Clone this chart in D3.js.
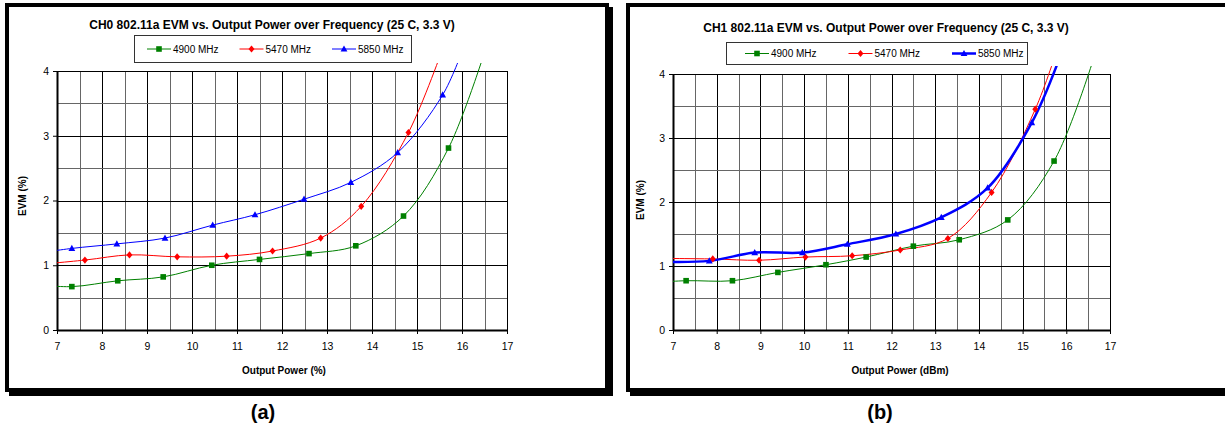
<!DOCTYPE html>
<html>
<head>
<meta charset="utf-8">
<script src="https://cdn.jsdelivr.net/npm/d3@7"></script>
<style>
  body { margin: 0; background: #fff; }
  svg { display: block; font-family: Arial, "Liberation Sans", sans-serif; }
</style>
</head>
<body>
<svg id="fig" width="1225" height="425"></svg>
<script>
var powerTicks = [7, 8, 9, 10, 11, 12, 13, 14, 15, 16, 17];
var evmTicks = [0, 1, 2, 3, 4];
var freqLabels = ["4900 MHz", "5470 MHz", "5850 MHz"];
var panelTitles = ["CH0 802.11a EVM vs. Output Power over Frequency (25 C, 3.3 V)",
                   "CH1 802.11a EVM vs. Output Power over Frequency (25 C, 3.3 V)"];
var xTitles = ["Output Power (%)", "Output Power (dBm)"];
var captions = ["(a)", "(b)"];

// CH0 readings (first/last points sit outside the axes, so the smoothed line runs off the plot)
var ch0Pwr4900 = [6.5, 7.33, 8.35, 9.36, 10.44, 11.5, 12.6, 13.64, 14.7, 15.7, 16.6];
var ch0Evm4900 = [0.70, 0.67, 0.76, 0.82, 1.00, 1.09, 1.18, 1.30, 1.76, 2.81, 4.5];
var ch0Pwr5470 = [6.4, 7.62, 8.61, 9.67, 10.77, 11.79, 12.86, 13.76, 14.81, 15.6];
var ch0Evm5470 = [1.00, 1.08, 1.16, 1.13, 1.14, 1.22, 1.42, 1.91, 3.05, 4.4];
var ch0Pwr5850 = [6.5, 7.33, 8.33, 9.4, 10.46, 11.4, 12.49, 13.53, 14.57, 15.57, 16.0];
var ch0Evm5850 = [1.18, 1.26, 1.33, 1.42, 1.62, 1.78, 2.02, 2.28, 2.74, 3.63, 4.3];

// CH1 readings
var ch1Pwr4900 = [6.5, 7.3, 8.36, 9.4, 10.5, 11.42, 12.5, 13.55, 14.66, 15.72, 16.7];
var ch1Evm4900 = [0.74, 0.77, 0.77, 0.90, 1.02, 1.14, 1.31, 1.41, 1.72, 2.64, 4.4];
var ch1Pwr5470 = [6.5, 7.91, 8.97, 10.03, 11.1, 12.2, 13.29, 14.29, 15.29, 15.8];
var ch1Evm5470 = [1.12, 1.11, 1.09, 1.14, 1.16, 1.25, 1.43, 2.15, 3.45, 4.4];
var ch1Pwr5850 = [6.5, 7.83, 8.87, 9.96, 10.99, 12.1, 13.14, 14.2, 15.21, 15.9];
var ch1Evm5850 = [1.07, 1.08, 1.21, 1.21, 1.34, 1.50, 1.76, 2.22, 3.24, 4.35];

var seriesColors = ["#008000", "#ff0000", "#0000ff"];
var markerPaths = [
  "M-2.8,-2.8H2.8V2.8H-2.8Z",
  "M0,-3.6L3,0L0,3.6L-3,0Z",
  "M0,-3.6L3.4,2.6H-3.4Z"
];

var svg = d3.select("#fig");

function zipSeries(px, ev) {
  return px.map(function(p, i) { return [p, ev[i]]; });
}

function drawPanel(idx, lay, series, widths) {
  var g = svg.append("g");
  var f = lay.frame;

  // frame with drop shadow
  g.append("rect").attr("x", f.x + 2).attr("y", f.y + 2).attr("width", f.w + 4).attr("height", f.h + 4).attr("fill", "#000");
  g.append("rect").attr("x", f.x).attr("y", f.y).attr("width", f.w).attr("height", f.h)
    .attr("fill", "#fff").attr("stroke", "#000").attr("stroke-width", 4);

  var xx = d3.scaleLinear().domain([7, 17]).range([lay.x0, lay.x1]);
  var yy = d3.scaleLinear().domain([0, 4]).range([lay.y1, lay.y0]);

  // grid
  g.selectAll(".vg").data(d3.range(7.5, 17.01, 0.5)).enter().append("line")
    .attr("x1", function(d) { return Math.round(xx(d)) + 0.5; })
    .attr("x2", function(d) { return Math.round(xx(d)) + 0.5; })
    .attr("y1", lay.y0).attr("y2", lay.y1)
    .attr("stroke", function(d) { return d % 1 === 0 ? "#000" : "#666"; })
    .attr("stroke-width", 1);
  g.selectAll(".hg").data(d3.range(0.5, 4.01, 0.5)).enter().append("line")
    .attr("y1", function(d) { return Math.round(yy(d)) + 0.5; })
    .attr("y2", function(d) { return Math.round(yy(d)) + 0.5; })
    .attr("x1", lay.x0).attr("x2", lay.x1)
    .attr("stroke", function(d) { return d % 1 === 0 ? "#000" : "#666"; })
    .attr("stroke-width", 1);

  // axes
  var xAxis = g.append("g").attr("transform", "translate(0," + lay.y1 + ")")
    .call(d3.axisBottom(xx).tickValues(powerTicks).tickFormat(d3.format("d"))
      .tickSize(4).tickPadding(9).tickSizeOuter(0));
  var yAxis = g.append("g").attr("transform", "translate(" + lay.x0 + ",0)")
    .call(d3.axisLeft(yy).tickValues(evmTicks).tickFormat(d3.format("d"))
      .tickSize(4).tickPadding(4).tickSizeOuter(0));
  [xAxis, yAxis].forEach(function(a) {
    a.attr("font-family", null).attr("font-size", null);
    a.select(".domain").attr("stroke", "#000").attr("stroke-width", 2);
    a.selectAll("text").attr("fill", "#000").style("font-size", "10.5px");
  });

  // series
  var clipId = "clip" + idx;
  g.append("clipPath").attr("id", clipId).append("rect")
    .attr("x", lay.x0).attr("y", lay.y0 - 8).attr("width", lay.x1 - lay.x0).attr("height", lay.y1 - lay.y0 + 8);
  var line = d3.line().x(function(d) { return xx(d[0]); }).y(function(d) { return yy(d[1]); })
    .curve(d3.curveCatmullRom.alpha(0.5));
  series.forEach(function(s, i) {
    g.append("path").datum(s).attr("d", line).attr("fill", "none")
      .attr("stroke", seriesColors[i]).attr("stroke-width", widths[i])
      .attr("clip-path", "url(#" + clipId + ")");
  });
  series.forEach(function(s, i) {
    g.selectAll(".m" + i).data(s.filter(function(d) { return d[0] > 7 && d[0] < 17 && d[1] > 0 && d[1] < 4; }))
      .enter().append("path")
      .attr("transform", function(d) { return "translate(" + xx(d[0]) + "," + yy(d[1]) + ")"; })
      .attr("d", markerPaths[i]).attr("fill", seriesColors[i]);
  });

  // titles
  g.append("text").attr("x", lay.titleX).attr("y", lay.titleY).attr("text-anchor", "middle")
    .style("font-size", "12px").style("font-weight", "bold").text(panelTitles[idx]);
  g.append("text").attr("x", lay.xTitleX).attr("y", 374).attr("text-anchor", "middle")
    .style("font-size", "10px").style("font-weight", "bold").text(xTitles[idx]);
  g.append("text").attr("transform", "translate(" + lay.yTitleX + "," + lay.yTitleY + ")rotate(-90)")
    .attr("text-anchor", "middle").attr("dy", "0.35em")
    .style("font-size", "10px").style("font-weight", "bold").text("EVM (%)");

  // legend
  var lg = lay.legend;
  g.append("rect").attr("x", lg.x + 0.5).attr("y", lg.y + 0.5).attr("width", lg.w).attr("height", lg.h)
    .attr("fill", "#fff").attr("stroke", "#333").attr("stroke-width", 1);
  freqLabels.forEach(function(name, i) {
    var lx = lg.x + lg.first + i * lg.step;
    var ly = lg.y + lg.h / 2 + 0.5;
    g.append("line").attr("x1", lx).attr("x2", lx + 24).attr("y1", ly).attr("y2", ly)
      .attr("stroke", seriesColors[i]).attr("stroke-width", widths[i]);
    g.append("path").attr("transform", "translate(" + (lx + 12) + "," + ly + ")")
      .attr("d", markerPaths[i]).attr("fill", seriesColors[i]);
    g.append("text").attr("x", lx + 26).attr("y", ly).attr("dy", "0.35em")
      .style("font-size", "10px").text(name);
  });

  // caption
  svg.append("text").attr("x", lay.capX).attr("y", 419).attr("text-anchor", "middle")
    .style("font-size", "20px").style("font-weight", "bold").text(captions[idx]);
}

drawPanel(0, {
  frame: { x: 7, y: 5, w: 600, h: 385 },
  x0: 57, x1: 507, y0: 71, y1: 330,
  titleX: 272, titleY: 29, xTitleX: 284, yTitleX: 22, yTitleY: 196, capX: 263,
  legend: { x: 134, y: 35, w: 277, h: 27, first: 13, step: 92.5 }
}, [zipSeries(ch0Pwr4900, ch0Evm4900), zipSeries(ch0Pwr5470, ch0Evm5470), zipSeries(ch0Pwr5850, ch0Evm5850)], [1, 1, 1]);

drawPanel(1, {
  frame: { x: 628, y: 5, w: 610, h: 385 },
  x0: 673, x1: 1110, y0: 74, y1: 330,
  titleX: 886, titleY: 32, xTitleX: 900, yTitleX: 640, yTitleY: 200, capX: 880,
  legend: { x: 726, y: 42, w: 301, h: 22, first: 19, step: 103.5 }
}, [zipSeries(ch1Pwr4900, ch1Evm4900), zipSeries(ch1Pwr5470, ch1Evm5470), zipSeries(ch1Pwr5850, ch1Evm5850)], [1, 1, 2.5]);
</script>
</body>
</html>
